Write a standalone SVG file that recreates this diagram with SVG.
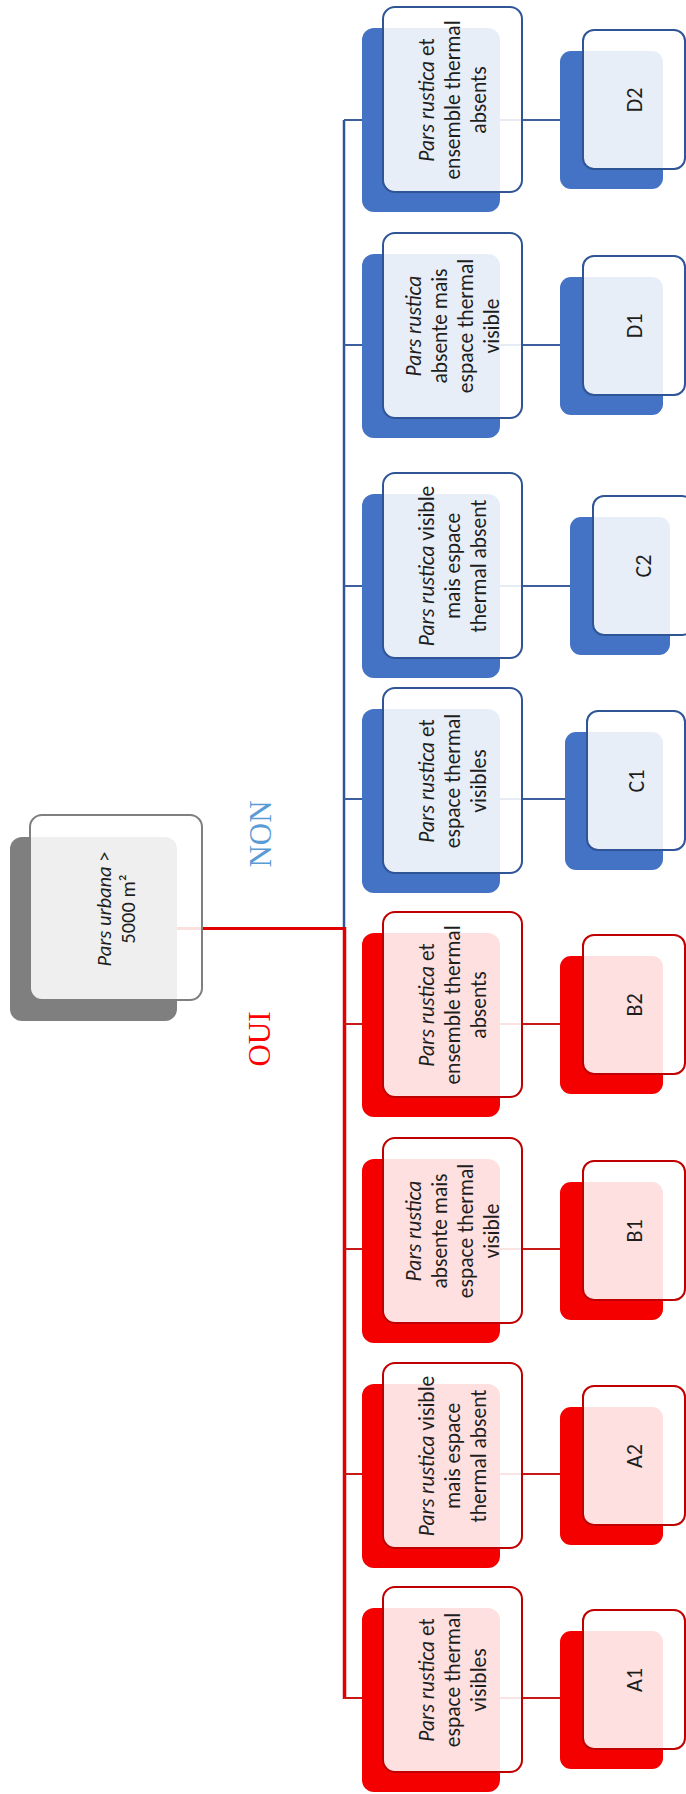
<svg xmlns="http://www.w3.org/2000/svg" width="686" height="1794" viewBox="0 0 686 1794">
<style>
.t{font-family:Carlito,Lato,"Liberation Sans",sans-serif;font-size:21.5px;fill:#1e1e1e;text-anchor:middle}
.i{font-style:italic}
.l2{font-size:22px}
.lbl{font-family:"Liberation Serif","Times New Roman",serif;font-size:31px;text-anchor:middle}
.fr{fill:#fff;fill-opacity:.88;stroke-width:2}
.rb{fill:#f40000}.rf{stroke:#c00000}
.bb{fill:#4472c4}.bf{stroke:#2f5597}
.gb{fill:#7f7f7f}.gf{stroke:#7f7f7f}
.cr{stroke:#e00000;fill:none}
.cb{stroke:#2f5597;fill:none}
.cr2{stroke:#c81818;stroke-width:2;fill:none}
.cb2{stroke:#3d5f9e;stroke-width:2;fill:none}
</style>
<g id="connectors">
<line class="cr" x1="177" y1="928.5" x2="344.5" y2="928.5" stroke-width="3"/>
<line class="cb" x1="344" y1="120" x2="344" y2="928.5" stroke-width="2.5"/>
<line class="cr" x1="344.5" y1="927" x2="344.5" y2="1699" stroke-width="3.5"/>
<line class="cb2" x1="344" y1="120" x2="362" y2="120"/>
<line class="cb2" x1="344" y1="345" x2="362" y2="345"/>
<line class="cb2" x1="344" y1="586" x2="362" y2="586"/>
<line class="cb2" x1="344" y1="799" x2="362" y2="799"/>
<line class="cr2" x1="344" y1="1024" x2="362" y2="1024"/>
<line class="cr2" x1="344" y1="1249" x2="362" y2="1249"/>
<line class="cr2" x1="344" y1="1474" x2="362" y2="1474"/>
<line class="cr2" x1="344" y1="1698" x2="362" y2="1698"/>
<line class="cb2" x1="500" y1="120" x2="560" y2="120"/>
<line class="cb2" x1="500" y1="345" x2="560" y2="345"/>
<line class="cb2" x1="500" y1="586" x2="570" y2="586"/>
<line class="cb2" x1="500" y1="799" x2="565" y2="799"/>
<line class="cr2" x1="500" y1="1024" x2="560" y2="1024"/>
<line class="cr2" x1="500" y1="1249" x2="560" y2="1249"/>
<line class="cr2" x1="500" y1="1474" x2="560" y2="1474"/>
<line class="cr2" x1="500" y1="1698" x2="560" y2="1698"/>
</g>
<g id="labels">
<text class="lbl" fill="#5b9bd5" transform="translate(260 834) rotate(-90)" y="10.5">NON</text>
<text class="lbl" fill="#ff0000" transform="translate(259 1039) rotate(-90)" y="10.5">OUI</text>
</g>
<g id="root">
<rect class="gb" x="10" y="837" width="167" height="184" rx="12"/>
<rect class="fr gf" x="30" y="815" width="172" height="185" rx="12"/>
<text class="t" style="font-size:20.5px" transform="translate(116 909) rotate(-90)"><tspan x="0" y="-5"><tspan class="i">Pars urbana</tspan> &gt;</tspan><tspan x="0" y="19">5000 m²</tspan></text>
</g>
<g id="D2_1">
<rect class="bb" x="362" y="28" width="138" height="184" rx="12"/>
<rect class="fr bf" x="383" y="7" width="139" height="185" rx="12"/>
<text class="t" transform="translate(452.5 100) rotate(-90)"><tspan x="0" y="-19"><tspan class="i">Pars rustica</tspan> et</tspan><tspan x="0" y="7">ensemble thermal</tspan><tspan x="0" y="33">absents</tspan></text>
</g>
<g id="D2">
<rect class="bb" x="560" y="51" width="103" height="138" rx="11"/>
<rect class="fr bf" x="583" y="30" width="102" height="139" rx="11"/>
<text class="t l2" transform="translate(634 100) rotate(-90)" y="7.5">D2</text>
</g>
<g id="D1_1">
<rect class="bb" x="362" y="254" width="138" height="184" rx="12"/>
<rect class="fr bf" x="383" y="233" width="139" height="185" rx="12"/>
<text class="t" transform="translate(452.5 326) rotate(-90)"><tspan x="0" y="-32"><tspan class="i">Pars rustica</tspan></tspan><tspan x="0" y="-6">absente mais</tspan><tspan x="0" y="20">espace thermal</tspan><tspan x="0" y="46">visible</tspan></text>
</g>
<g id="D1">
<rect class="bb" x="560" y="277" width="103" height="138" rx="11"/>
<rect class="fr bf" x="583" y="256" width="102" height="139" rx="11"/>
<text class="t l2" transform="translate(634 326) rotate(-90)" y="7.5">D1</text>
</g>
<g id="C2_1">
<rect class="bb" x="362" y="494" width="138" height="184" rx="12"/>
<rect class="fr bf" x="383" y="473" width="139" height="185" rx="12"/>
<text class="t" transform="translate(452.5 566) rotate(-90)"><tspan x="0" y="-19"><tspan class="i">Pars rustica</tspan> visible</tspan><tspan x="0" y="7">mais espace</tspan><tspan x="0" y="33">thermal absent</tspan></text>
</g>
<g id="C2">
<rect class="bb" x="570" y="517" width="100" height="138" rx="11"/>
<rect class="fr bf" x="593" y="496" width="100" height="139" rx="11"/>
<text class="t l2" transform="translate(643 566) rotate(-90)" y="7.5">C2</text>
</g>
<g id="C1_1">
<rect class="bb" x="362" y="709" width="138" height="184" rx="12"/>
<rect class="fr bf" x="383" y="688" width="139" height="185" rx="12"/>
<text class="t" transform="translate(452.5 781) rotate(-90)"><tspan x="0" y="-19"><tspan class="i">Pars rustica</tspan> et</tspan><tspan x="0" y="7">espace thermal</tspan><tspan x="0" y="33">visibles</tspan></text>
</g>
<g id="C1">
<rect class="bb" x="565" y="732" width="98" height="138" rx="11"/>
<rect class="fr bf" x="587" y="711" width="98" height="139" rx="11"/>
<text class="t l2" transform="translate(636 781) rotate(-90)" y="7.5">C1</text>
</g>
<g id="B2_1">
<rect class="rb" x="362" y="933" width="138" height="184" rx="12"/>
<rect class="fr rf" x="383" y="912" width="139" height="185" rx="12"/>
<text class="t" transform="translate(452.5 1005) rotate(-90)"><tspan x="0" y="-19"><tspan class="i">Pars rustica</tspan> et</tspan><tspan x="0" y="7">ensemble thermal</tspan><tspan x="0" y="33">absents</tspan></text>
</g>
<g id="B2">
<rect class="rb" x="560" y="956" width="103" height="138" rx="11"/>
<rect class="fr rf" x="583" y="935" width="102" height="139" rx="11"/>
<text class="t l2" transform="translate(634 1005) rotate(-90)" y="7.5">B2</text>
</g>
<g id="B1_1">
<rect class="rb" x="362" y="1159" width="138" height="184" rx="12"/>
<rect class="fr rf" x="383" y="1138" width="139" height="185" rx="12"/>
<text class="t" transform="translate(452.5 1231) rotate(-90)"><tspan x="0" y="-32"><tspan class="i">Pars rustica</tspan></tspan><tspan x="0" y="-6">absente mais</tspan><tspan x="0" y="20">espace thermal</tspan><tspan x="0" y="46">visible</tspan></text>
</g>
<g id="B1">
<rect class="rb" x="560" y="1182" width="103" height="138" rx="11"/>
<rect class="fr rf" x="583" y="1161" width="102" height="139" rx="11"/>
<text class="t l2" transform="translate(634 1231) rotate(-90)" y="7.5">B1</text>
</g>
<g id="A2_1">
<rect class="rb" x="362" y="1384" width="138" height="184" rx="12"/>
<rect class="fr rf" x="383" y="1363" width="139" height="185" rx="12"/>
<text class="t" transform="translate(452.5 1456) rotate(-90)"><tspan x="0" y="-19"><tspan class="i">Pars rustica</tspan> visible</tspan><tspan x="0" y="7">mais espace</tspan><tspan x="0" y="33">thermal absent</tspan></text>
</g>
<g id="A2">
<rect class="rb" x="560" y="1407" width="103" height="138" rx="11"/>
<rect class="fr rf" x="583" y="1386" width="102" height="139" rx="11"/>
<text class="t l2" transform="translate(634 1456) rotate(-90)" y="7.5">A2</text>
</g>
<g id="A1_1">
<rect class="rb" x="362" y="1608" width="138" height="184" rx="12"/>
<rect class="fr rf" x="383" y="1587" width="139" height="185" rx="12"/>
<text class="t" transform="translate(452.5 1680) rotate(-90)"><tspan x="0" y="-19"><tspan class="i">Pars rustica</tspan> et</tspan><tspan x="0" y="7">espace thermal</tspan><tspan x="0" y="33">visibles</tspan></text>
</g>
<g id="A1">
<rect class="rb" x="560" y="1631" width="103" height="138" rx="11"/>
<rect class="fr rf" x="583" y="1610" width="102" height="139" rx="11"/>
<text class="t l2" transform="translate(634 1680) rotate(-90)" y="7.5">A1</text>
</g>
</svg>
